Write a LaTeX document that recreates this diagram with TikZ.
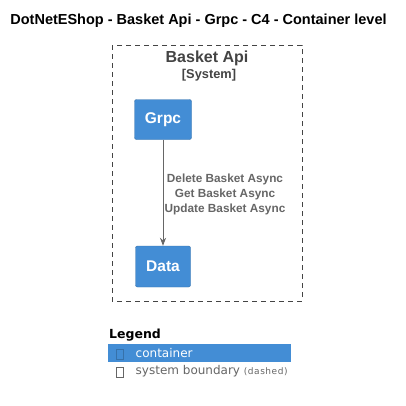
\documentclass[tikz,border=0pt]{standalone}
\usepackage{fontspec}
\setmainfont{Liberation Sans}
\newfontfamily\legfont{DejaVu Sans}
\usetikzlibrary{arrows.meta}
\begin{document}
\begin{tikzpicture}[x=1pt,y=-1pt,
  container/.style={draw=#1!80!black, fill=#1, rounded corners=2pt, text=white, font=\fontsize{15.5}{17}\selectfont\bfseries, inner sep=0pt},
  container/.default=cblue,
  boundary/.style={draw=bgray, dashed, dash pattern=on 5pt off 4pt, line width=0.7pt},
  rel/.style={draw=rgray, line width=0.8pt, -{Stealth[length=8pt,width=6pt]}},
  rellabel/.style={text=rgray, font=\fontsize{11.8}{14.6}\selectfont\bfseries, align=center, inner sep=0pt},
  legtext/.style={anchor=west, inner sep=0pt, font=\legfont\fontsize{12}{14}\selectfont}
]
\definecolor{cblue}{HTML}{438DD5}
\definecolor{bgray}{HTML}{444444}
\definecolor{rgray}{HTML}{666666}
\useasboundingbox (0,0) rectangle (406,405);
\fill[white] (0,0) rectangle (406,405);
\node[font=\fontsize{14.5}{16}\selectfont\bfseries, anchor=center] (title) at (198.5,21) {DotNetEShop - Basket Api - Grpc - C4 - Container level};
\draw[boundary] (112,45) rectangle (302,301);
\node[text=bgray, font=\fontsize{16}{18}\selectfont\bfseries] (bname) at (207,58) {Basket Api};
\node[text=bgray, font=\fontsize{12.8}{14}\selectfont\bfseries] (btype) at (209,75) {[System]};
\node[container, minimum width=57pt, minimum height=40pt] (grpc) at (163,119.5) {Grpc};
\node[container, minimum width=55pt, minimum height=41pt] (data) at (163,266.5) {Data};
\draw[rel] (grpc) -- (data);
\node[rellabel] (lbl) at (225,194.5) {Delete Basket Async\\Get Basket Async\\Update Basket Async};
% legend
\node[legtext, font=\legfont\fontsize{12.5}{14}\selectfont\bfseries] (legend) at (109,335) {Legend};
\fill[cblue] (108,344) rectangle (291,362);
\draw[cblue!80!black, line width=0.6pt] (116.5,349) rectangle (123.5,359.5);
\node[legtext, text=white] (lc) at (135.5,353.5) {container};
\draw[rgray, line width=0.6pt] (116.5,367) rectangle (123.5,377.5);
\node[legtext, text=rgray] (lb) at (135.5,371.5) {system boundary {\fontsize{9}{10}\selectfont\addfontfeature{LetterSpace=6}(dashed)}};
\end{tikzpicture}
\end{document}
